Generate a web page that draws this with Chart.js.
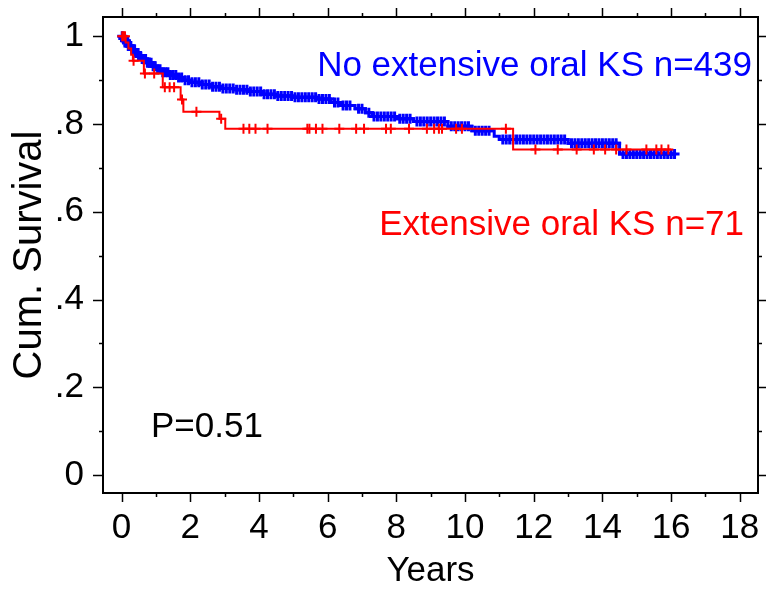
<!DOCTYPE html>
<html>
<head>
<meta charset="utf-8">
<script src="https://cdn.jsdelivr.net/npm/chart.js@4.4.1/dist/chart.umd.min.js"></script>
<style>
  html, body { margin: 0; padding: 0; background: #fff; }
  #wrap { width: 766px; height: 592px; }
</style>
</head>
<body>
<div id="wrap"><canvas id="kmChart" width="766" height="592"></canvas></div>
<script>
// No extensive oral KS, n=439: step times (years) and survival after each step
const noKsTimes = [0, 0.05, 0.1, 0.15, 0.2, 0.3, 0.4, 0.5, 0.6, 0.75, 0.9, 1.05, 1.2, 1.4, 1.6, 1.8, 2.0, 2.3, 2.6, 2.9, 3.3, 3.7, 4.1, 4.5, 5.0, 5.7, 6.1, 6.4, 6.8, 7.1, 7.3, 8.0, 8.5, 9.5, 10.2, 10.85, 11.0, 13.0, 14.5, 16.1];
const noKsSurv = [1, 0.995, 0.99, 0.985, 0.978, 0.97, 0.962, 0.955, 0.948, 0.94, 0.932, 0.925, 0.918, 0.912, 0.906, 0.9, 0.895, 0.89, 0.885, 0.881, 0.878, 0.874, 0.868, 0.864, 0.861, 0.857, 0.849, 0.842, 0.835, 0.826, 0.817, 0.812, 0.806, 0.795, 0.785, 0.772, 0.765, 0.756, 0.732, 0.732];
// censored times (years)
const noKsCensored = [0.02, 0.05, 0.08, 0.1, 0.13, 0.16, 0.2, 0.23, 0.27, 0.3, 0.34, 0.38, 0.42, 0.46, 0.5, 0.55, 0.6, 0.65, 0.7, 0.75, 0.8, 0.86, 0.92, 0.98, 1.05, 1.12, 1.2, 1.28, 1.35, 1.42, 1.5, 1.58, 1.66, 1.75, 1.85, 1.95, 2.05, 2.15, 2.25, 2.35, 2.45, 2.55, 2.65, 2.75, 2.85, 2.95, 3.05, 3.15, 3.25, 3.35, 3.45, 3.55, 3.65, 3.75, 3.85, 3.95, 4.05, 4.15, 4.25, 4.35, 4.45, 4.55, 4.65, 4.75, 4.85, 4.95, 5.05, 5.15, 5.25, 5.35, 5.45, 5.55, 5.65, 5.75, 5.85, 5.95, 6.05, 6.2, 6.3, 6.45, 6.55, 6.65, 6.9, 7.0, 7.2, 7.35, 7.45, 7.55, 7.65, 7.75, 7.85, 7.95, 8.1, 8.2, 8.3, 8.4, 8.6, 8.7, 8.8, 8.9, 9.0, 9.1, 9.2, 9.3, 9.4, 9.6, 9.7, 9.8, 9.9, 10.0, 10.1, 10.3, 10.4, 10.5, 10.6, 10.7, 11.1, 11.2, 11.3, 11.4, 11.5, 11.6, 11.7, 11.8, 11.9, 12.0, 12.1, 12.2, 12.3, 12.4, 12.5, 12.6, 12.7, 12.8, 12.9, 13.1, 13.2, 13.3, 13.4, 13.5, 13.6, 13.7, 13.8, 13.9, 14.0, 14.1, 14.2, 14.3, 14.4, 14.6, 14.7, 14.8, 14.9, 15.0, 15.1, 15.2, 15.3, 15.4, 15.5, 15.6, 15.7, 15.8, 15.9, 16.0, 16.1];

// Extensive oral KS, n=71
const ksTimes = [0, 0.12, 0.2, 0.28, 0.33, 0.65, 1.2, 1.72, 1.8, 2.85, 3.02, 11.4, 16.0];
const ksSurv = [1, 0.986, 0.972, 0.958, 0.944, 0.915, 0.884, 0.856, 0.828, 0.812, 0.789, 0.742, 0.742];
const ksCensored = [0.02, 0.06, 0.1, 0.35, 0.68, 0.95, 1.26, 1.4, 1.53, 1.76, 2.18, 2.9, 3.55, 3.72, 3.9, 4.25, 5.41, 5.47, 5.66, 5.85, 6.34, 6.83, 7.06, 7.7, 7.84, 8.37, 8.89, 9.1, 9.24, 9.33, 9.74, 9.91, 11.19, 12.05, 12.7, 13.25, 13.75, 14.08, 14.4, 14.7, 15.28, 15.57, 15.72, 15.92];

const xTicks = [0, 2, 4, 6, 8, 10, 12, 14, 16, 18];
const xMinorTicks = [1, 3, 5, 7, 9, 11, 13, 15, 17];
const yTicks = [0, 0.2, 0.4, 0.6, 0.8, 1];
const yTickLabels = ["0", ".2", ".4", ".6", ".8", "1"];
const yMinorTicks = [0.1, 0.3, 0.5, 0.7, 0.9];

const FONT = "'Liberation Sans', Arial, sans-serif";

function survAt(times, surv, t) {
  let s = surv[0];
  for (let i = 0; i < times.length; i++) {
    if (times[i] <= t) s = surv[i];
  }
  return s;
}

function stepPoints(times, surv) {
  return times.map((t, i) => ({ x: t, y: surv[i] }));
}

function censorPoints(cens, times, surv) {
  return cens.map((t) => ({ x: t, y: survAt(times, surv, t) }));
}

// kill the extra room chart.js keeps for the edge labels
function noEdgePadding(scale) {
  scale.paddingTop = 0;
  scale.paddingBottom = 0;
  scale.paddingLeft = 0;
  scale.paddingRight = 0;
}

// frame, ticks on all four sides, and the text labels
const framePlugin = {
  id: "frame",
  afterDraw(chart) {
    const ctx = chart.ctx;
    const a = chart.chartArea;
    const xs = chart.scales.x;
    const ys = chart.scales.y;
    ctx.save();
    ctx.strokeStyle = "#000";
    ctx.lineWidth = 2;
    ctx.strokeRect(a.left, a.top, a.right - a.left, a.bottom - a.top);

    ctx.lineWidth = 1.5;
    ctx.beginPath();
    const xTick = (v, len) => {
      const px = Math.round(xs.getPixelForValue(v)) + 0.5;
      ctx.moveTo(px, a.bottom);
      ctx.lineTo(px, a.bottom + len);
      ctx.moveTo(px, a.top);
      ctx.lineTo(px, a.top - len);
    };
    const yTick = (v, len) => {
      const py = Math.round(ys.getPixelForValue(v)) + 0.5;
      ctx.moveTo(a.left, py);
      ctx.lineTo(a.left - len, py);
      ctx.moveTo(a.right, py);
      ctx.lineTo(a.right + len, py);
    };
    xTicks.forEach((v) => xTick(v, 9));
    xMinorTicks.forEach((v) => xTick(v, 4));
    yTicks.forEach((v) => yTick(v, 10));
    yMinorTicks.forEach((v) => yTick(v, 4));
    ctx.stroke();

    ctx.font = "35px " + FONT;
    ctx.textBaseline = "alphabetic";
    ctx.textAlign = "right";
    ctx.fillStyle = "#0000ff";
    ctx.fillText("No extensive oral KS n=439", 752, 76);
    ctx.fillStyle = "#ff0000";
    ctx.fillText("Extensive oral KS n=71", 744, 235);
    ctx.textAlign = "left";
    ctx.fillStyle = "#000";
    ctx.fillText("P=0.51", 151, 437);
    ctx.restore();
  },
};

const ctx = document.getElementById("kmChart");

const kmChart = new Chart(ctx, {
  type: "scatter",
  data: {
    datasets: [
      {
        label: "Extensive oral KS censored",
        data: censorPoints(ksCensored, ksTimes, ksSurv),
        pointStyle: "cross",
        pointRadius: 5,
        pointBorderWidth: 2,
        borderColor: "#ff0000",
        backgroundColor: "#ff0000",
        order: 1,
      },
      {
        label: "Extensive oral KS",
        data: stepPoints(ksTimes, ksSurv),
        showLine: true,
        stepped: true,
        borderColor: "#ff0000",
        borderWidth: 2,
        pointRadius: 0,
        order: 2,
      },
      {
        label: "No extensive oral KS censored",
        data: censorPoints(noKsCensored, noKsTimes, noKsSurv),
        pointStyle: "cross",
        pointRadius: 5,
        pointBorderWidth: 3,
        borderColor: "#0000ff",
        backgroundColor: "#0000ff",
        order: 3,
      },
      {
        label: "No extensive oral KS",
        data: stepPoints(noKsTimes, noKsSurv),
        showLine: true,
        stepped: true,
        borderColor: "#0000ff",
        borderWidth: 3,
        pointRadius: 0,
        order: 4,
      },
    ],
  },
  options: {
    responsive: false,
    animation: false,
    devicePixelRatio: 1,
    layout: { padding: { left: 0, top: 17, right: 6, bottom: 0 } },
    plugins: {
      legend: { display: false },
      tooltip: { enabled: false },
    },
    scales: {
      x: {
        type: "linear",
        min: -0.54,
        max: 18.53,
        afterBuildTicks: (scale) => {
          scale.ticks = xTicks.map((v) => ({ value: v }));
        },
        afterFit: (scale) => {
          scale.height = 99;
          noEdgePadding(scale);
        },
        grid: { display: false, drawTicks: false },
        border: { display: false },
        ticks: {
          color: "#000",
          font: { family: FONT, size: 35 },
          padding: 14,
          maxRotation: 0,
          autoSkip: false,
        },
        title: {
          display: true,
          text: "Years",
          color: "#000",
          font: { family: FONT, size: 35 },
          padding: { top: 0, bottom: 0 },
        },
      },
      y: {
        type: "linear",
        min: -0.041,
        max: 1.044,
        afterBuildTicks: (scale) => {
          scale.ticks = yTicks.map((v) => ({ value: v }));
        },
        afterFit: (scale) => {
          scale.width = 103;
          noEdgePadding(scale);
        },
        grid: { display: false, drawTicks: false },
        border: { display: false },
        ticks: {
          color: "#000",
          font: { family: FONT, size: 35 },
          padding: 19,
          autoSkip: false,
          callback: (value) => yTickLabels[yTicks.indexOf(value)],
        },
        title: {
          display: true,
          text: "Cum. Survival",
          color: "#000",
          font: { family: FONT, size: 40 },
          padding: { top: 6, bottom: 0 },
        },
      },
    },
  },
  plugins: [framePlugin],
});
</script>
</body>
</html>
